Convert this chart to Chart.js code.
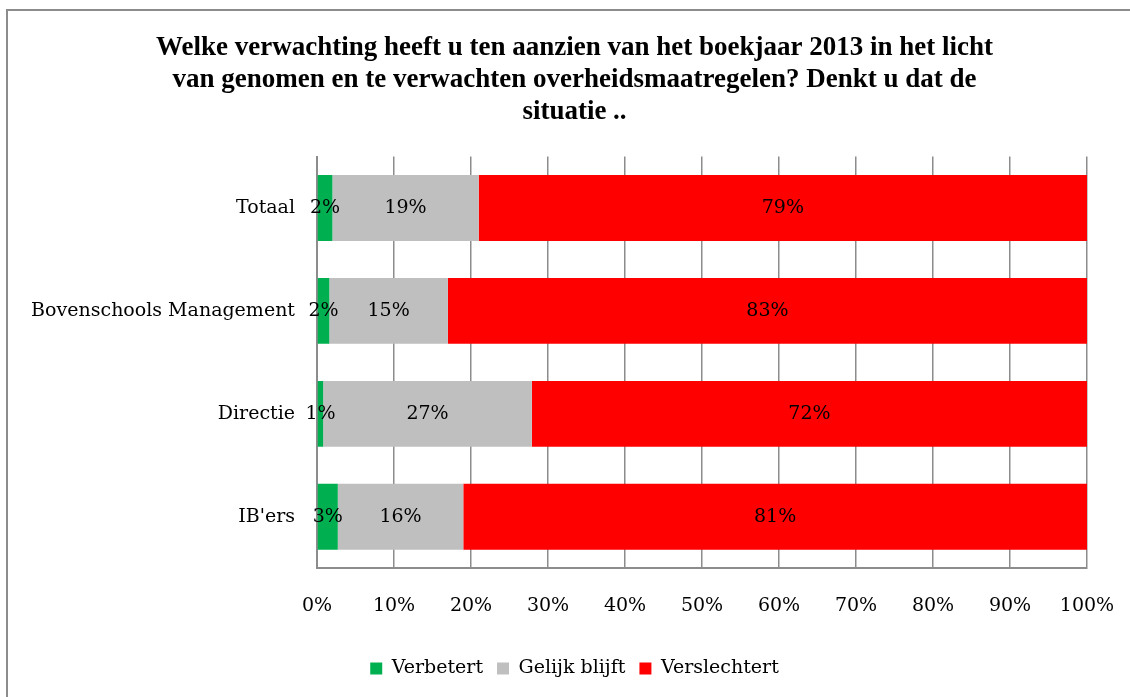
<!DOCTYPE html>
<html>
<head>
<meta charset="utf-8">
<script src="https://cdn.jsdelivr.net/npm/chart.js@4/dist/chart.umd.min.js"></script>
<style>
  html, body { margin: 0; padding: 0; background: #fff; }
  #wrap { position: relative; width: 1130px; height: 697px; overflow: hidden; }
  #frame { position: absolute; left: 6px; top: 9px; width: 1200px; height: 800px; border-left: 2px solid #8c8c8c; border-top: 2px solid #8c8c8c; }
  canvas { position: absolute; left: 0; top: 0; }
</style>
</head>
<body>
<div id="wrap">
  <div id="frame"></div>
  <canvas id="chart" width="1130" height="697"></canvas>
</div>
<script>
const categories = ['Totaal', 'Bovenschools Management', 'Directie', "IB'ers"];
const verbetert = [2, 1.6, 0.8, 2.7];
const gelijkBlijft = [19, 15.4, 27.1, 16.3];
const verslechtert = [79, 83, 72.1, 81];
const seriesNames = ['Verbetert', 'Gelijk blijft', 'Verslechtert'];
const xTicks = [0, 10, 20, 30, 40, 50, 60, 70, 80, 90, 100];

const labelFont = { family: 'DejaVu Serif', size: 19 };

// draws the rounded percentage in the middle of each bar segment
const segmentLabels = {
  id: 'segmentLabels',
  afterDatasetsDraw(chart) {
    const ctx = chart.ctx;
    ctx.save();
    ctx.font = '19px "DejaVu Serif"';
    ctx.fillStyle = '#000';
    ctx.textAlign = 'center';
    ctx.textBaseline = 'middle';
    chart.data.datasets.forEach((ds, i) => {
      const meta = chart.getDatasetMeta(i);
      meta.data.forEach((bar, j) => {
        const cx = (bar.x + bar.base) / 2;
        ctx.fillText(Math.round(ds.data[j]) + '%', cx, bar.y);
      });
    });
    ctx.restore();
  }
};

new Chart(document.getElementById('chart'), {
  type: 'bar',
  data: {
    labels: categories,
    datasets: [
      { label: seriesNames[0], data: verbetert, backgroundColor: '#00b050' },
      { label: seriesNames[1], data: gelijkBlijft, backgroundColor: '#bfbfbf' },
      { label: seriesNames[2], data: verslechtert, backgroundColor: '#ff0000' }
    ]
  },
  options: {
    indexAxis: 'y',
    responsive: false,
    animation: false,
    layout: { padding: { left: 62, right: 43, top: 14, bottom: 9 } },
    datasets: { bar: { categoryPercentage: 1, barPercentage: 0.64 } },
    plugins: {
      title: {
        display: true,
        text: [
          'Welke verwachting heeft u ten aanzien van het boekjaar 2013 in het licht',
          'van genomen en te verwachten overheidsmaatregelen? Denkt u dat de',
          'situatie ..'
        ],
        color: '#000',
        font: { family: 'Liberation Serif', size: 27, weight: 'bold', lineHeight: 1.18 },
        padding: { top: 18, bottom: 29 }
      },
      legend: {
        position: 'bottom',
        labels: {
          color: '#000',
          font: labelFont,
          boxWidth: 12,
          boxHeight: 12,
          padding: 14
        }
      },
      tooltip: { enabled: false }
    },
    scales: {
      x: {
        stacked: true,
        min: 0,
        max: 100,
        afterBuildTicks(scale) {
          scale.ticks = xTicks.map(v => ({ value: v }));
        },
        afterFit(scale) {
          scale.height += 2;
          scale.paddingLeft = 0;
          scale.paddingRight = 0;
        },
        ticks: {
          color: '#000',
          font: labelFont,
          padding: 26,
          callback: v => v + '%'
        },
        grid: { color: '#8c8c8c', lineWidth: 1.5, drawTicks: false },
        border: { color: '#8c8c8c', width: 2 }
      },
      y: {
        stacked: true,
        afterFit(scale) {
          scale.width = 255;
          // long category name reaches past the axis box, don't clip it
          scale._computeLabelArea = () => undefined;
        },
        ticks: { color: '#000', font: labelFont, padding: 22 },
        grid: { display: false, drawTicks: false },
        border: { color: '#8c8c8c', width: 2 }
      }
    }
  },
  plugins: [segmentLabels]
});
</script>
</body>
</html>
